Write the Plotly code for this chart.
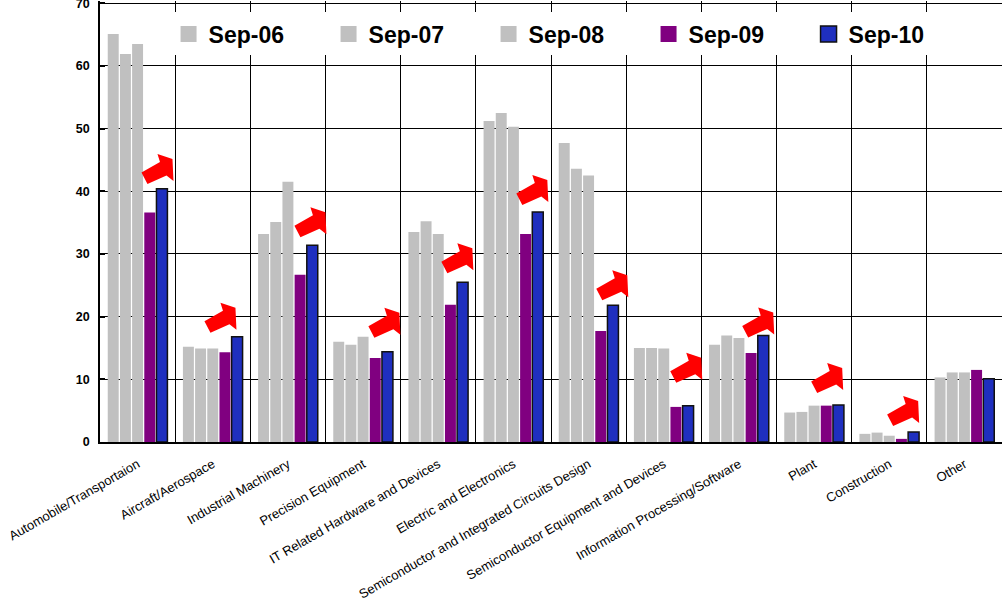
import plotly.graph_objects as go

# ---- data -------------------------------------------------------------
categories = [
    "Automobile/Transportaion",
    "Aircraft/Aerospace",
    "Industrial Machinery",
    "Precision Equipment",
    "IT Related Hardware and Devices",
    "Electric and Electronics",
    "Semiconductor and Integrated Circuits Design",
    "Semiconductor Equipment and Devices",
    "Information Processing/Software",
    "Plant",
    "Construction",
    "Other",
]

sep06 = [65.1, 15.2, 33.2, 16.0, 33.5, 51.2, 47.7, 15.0, 15.5, 4.7, 1.3, 10.3]
sep07 = [61.9, 14.9, 35.1, 15.5, 35.2, 52.5, 43.6, 15.0, 17.0, 4.8, 1.5, 11.1]
sep08 = [63.5, 14.9, 41.5, 16.8, 33.2, 50.3, 42.5, 14.9, 16.6, 5.8, 1.0, 11.1]
sep09 = [36.6, 14.3, 26.7, 13.4, 21.9, 33.2, 17.7, 5.6, 14.2, 5.8, 0.5, 11.5]
sep10 = [40.4, 16.8, 31.4, 14.4, 25.5, 36.7, 21.8, 5.8, 17.0, 5.9, 1.6, 10.1]

series_names = ["Sep-06", "Sep-07", "Sep-08", "Sep-09", "Sep-10"]
y_ticks = [0, 10, 20, 30, 40, 50, 60, 70]

# ---- styling ------------------------------------------------------------
GRAY = "#C0C0C0"
PURPLE = "#800080"
BLUE = "#1F2FBF"
OUTLINE = "#111111"
colors = [GRAY, GRAY, GRAY, PURPLE, BLUE]
outlines = [0, 0, 0, 0, 1.5]

W, H = 1002, 601
M_L, M_R, M_T, M_B = 100, 0, 1, 159
BARGAP = 0.19
BARGROUPGAP = 0.1

fig = go.Figure()

for name, vals, col, lw in zip(series_names, [sep06, sep07, sep08, sep09, sep10], colors, outlines):
    fig.add_trace(go.Bar(
        x=categories, y=vals, name=name, showlegend=False,
        marker=dict(color=col, line=dict(color=OUTLINE, width=lw)),
    ))

# legend entries with larger square swatches
for name, col, lw in zip(series_names, colors, outlines):
    fig.add_trace(go.Scatter(
        x=[None], y=[None], mode="markers", name=name,
        marker=dict(symbol="square", size=16, color=col,
                    line=dict(color=OUTLINE, width=lw)),
    ))

# ---- growth arrows above the Sep-09 / Sep-10 pairs ----------------------
cat_px = (W - M_L - M_R) / len(categories)
slot_px = cat_px * (1 - BARGAP) / len(series_names)
blue_off = 2 * slot_px  # Sep-10 bar centre relative to category centre

# arrow outline (pixels, origin at lower-right of its box, y up)
arrow_pts = [(-32, 11.5), (-26, 0), (-7, 8.5), (0, 3), (-1, 25), (-16, 30), (-13.5, 22)]
# per-arrow pixel nudges (right edge vs. bar centre, bottom vs. bar top)
arrow_dx = [11.5, -0.7, 14.1, 12.9, 10.7, 10.5, 15.3, 14.1, 10.9, 4.7, 5.5]
arrow_dy = [4.7, 4.0, 8.0, 14.0, 9.0, 7.0, 5.0, 23.0, -2.0, 12.0, 6.0]

for i, (dx, dy) in enumerate(zip(arrow_dx, arrow_dy)):
    ox = blue_off + dx
    path = "M " + " L ".join(f"{ox + px:.1f},{dy + py:.1f}" for px, py in arrow_pts) + " Z"
    fig.add_shape(
        type="path", path=path, xref="x", yref="y",
        xsizemode="pixel", ysizemode="pixel",
        xanchor=categories[i], yanchor=sep10[i],
        fillcolor="#FF0000", line=dict(width=0), layer="above",
    )

fig.update_layout(
    width=W, height=H,
    margin=dict(l=M_L, r=M_R, t=M_T, b=M_B, pad=0, autoexpand=False),
    paper_bgcolor="white", plot_bgcolor="white",
    barmode="group", bargap=BARGAP, bargroupgap=BARGROUPGAP,
    font=dict(family="Liberation Sans, Arial, sans-serif", color="black"),
    legend=dict(
        orientation="h", x=0.076, y=0.974, xanchor="left", yanchor="top",
        bgcolor="white", borderwidth=0,
        font=dict(size=23, weight=700, color="black"),
        entrywidth=115, entrywidthmode="pixels",
        itemwidth=30,
    ),
    xaxis=dict(
        type="category", tickson="boundaries", automargin=False,
        showgrid=True, gridcolor="black", gridwidth=1,
        showline=True, linecolor="black", linewidth=1.5,
        ticks="", tickangle=-30,
        tickfont=dict(size=13, color="black"),
        ticklabelstandoff=8, ticklabeloverflow="allow",
        range=[-0.5, len(categories) - 0.5],
    ),
    yaxis=dict(
        range=[0, 70.35], tickvals=y_ticks, automargin=False,
        showgrid=True, gridcolor="black", gridwidth=1,
        showline=True, linecolor="black", linewidth=1.5,
        ticks="inside", ticklen=5, tickwidth=1.5, tickcolor="black",
        tickfont=dict(size=12.5, weight=700, color="black"),
        ticklabelstandoff=6, ticklabeloverflow="allow",
        zeroline=False,
    ),
)

fig.write_html("out.html")
